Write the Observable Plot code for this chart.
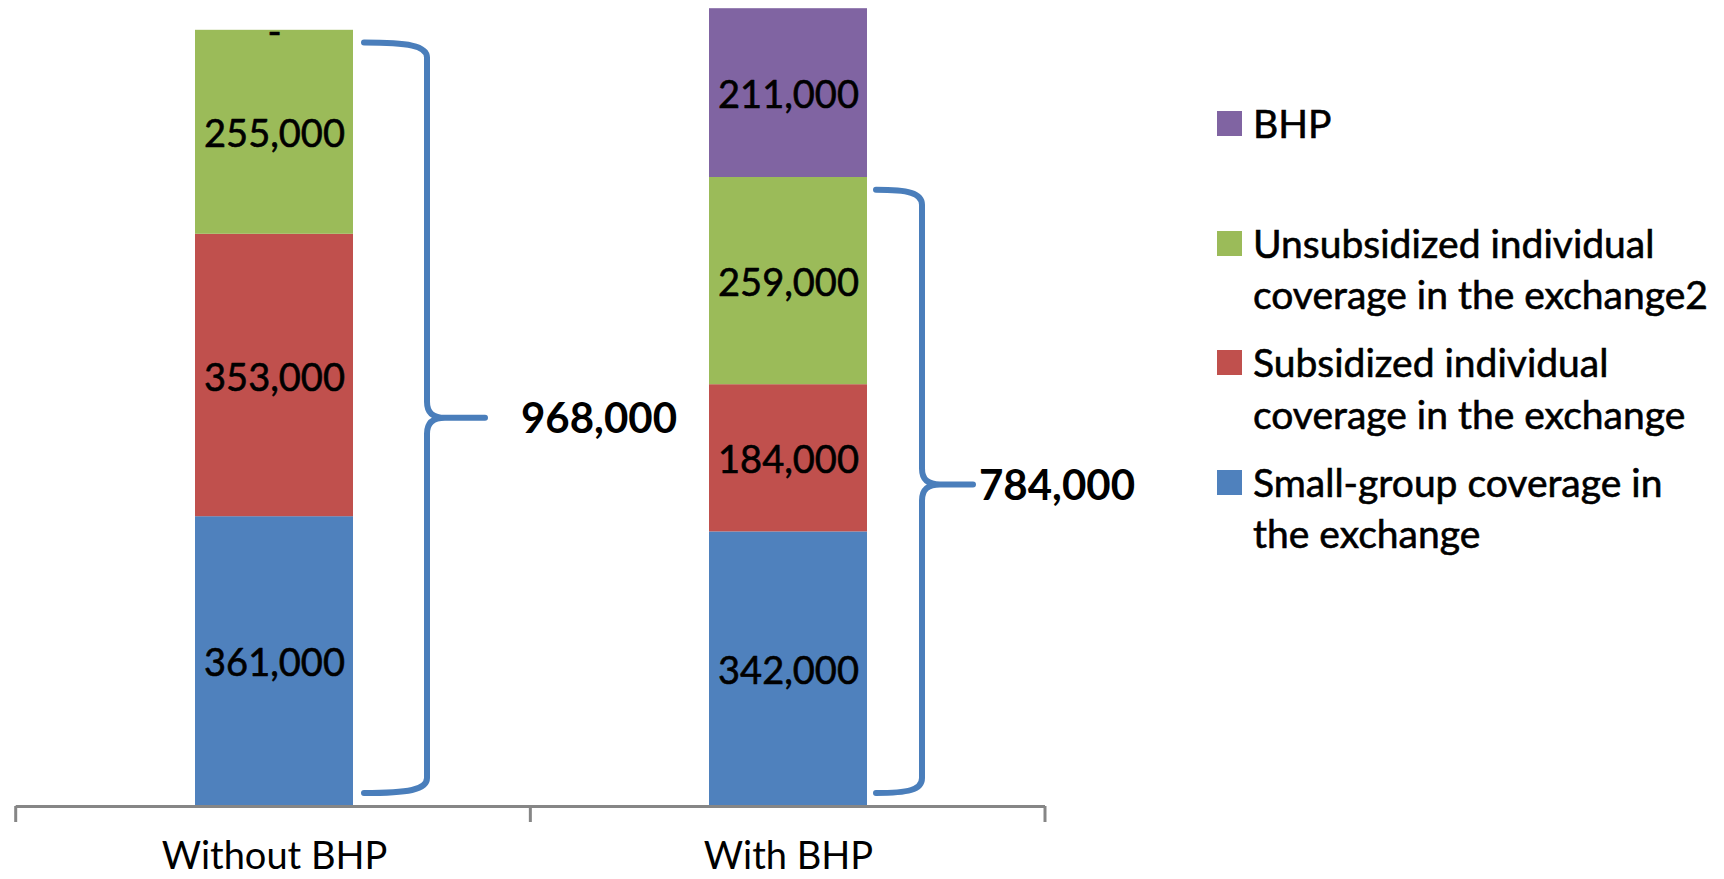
<!DOCTYPE html>
<html>
<head>
<meta charset="utf-8">
<script src="https://cdn.jsdelivr.net/npm/d3@7"></script>
<script src="https://cdn.jsdelivr.net/npm/@observablehq/plot@0.6"></script>
<style>
  html, body { margin: 0; padding: 0; background: #ffffff; }
  #wrap { position: relative; width: 1724px; height: 879px; font-family: Lato, "Open Sans", sans-serif; }
  #legend { position: absolute; left: 1217px; top: 98px; }
  .entry { position: relative; height: 119.5px; }
  .swatch { position: absolute; left: 0; top: 13px; width: 25px; height: 25px; }
  .ltext { position: absolute; left: 36px; top: 0; font-size: 39px; line-height: 51.5px; color: #000; white-space: nowrap; -webkit-text-stroke: 0.6px #000; }
</style>
</head>
<body>
<div id="wrap"></div>
<script>
// ---------------- data ----------------
const categories = ["Without BHP", "With BHP"];
const seriesNames = [
  "Small-group coverage in the exchange",
  "Subsidized individual coverage in the exchange",
  "Unsubsidized individual coverage in the exchange2",
  "BHP"
];
const seriesColors = ["#4F81BD", "#C0504D", "#9BBB59", "#8064A2"];
const smallGroup   = [361000, 342000];
const subsidized   = [353000, 184000];
const unsubsidized = [255000, 259000];
const bhp          = [0, 211000];
const braceTotals  = [968000, 784000];
const braceLabels  = ["968,000", "784,000"];
const legendLines = [
  ["BHP"],
  ["Unsubsidized individual", "coverage in the exchange2"],
  ["Subsidized individual", "coverage in the exchange"],
  ["Small-group coverage in", "the exchange"]
];
const legendOrder = ["BHP",
  "Unsubsidized individual coverage in the exchange2",
  "Subsidized individual coverage in the exchange",
  "Small-group coverage in the exchange"];

// ---------------- table ----------------
const seriesValues = [smallGroup, subsidized, unsubsidized, bhp];
const fmt = d3.format(",");
const rows = [];
categories.forEach((c, ci) => {
  seriesNames.forEach((s, si) => {
    const v = seriesValues[si][ci];
    rows.push({category: c, series: s, value: v, label: v === 0 ? "-" : fmt(v)});
  });
});
const braces = categories.map((c, i) => ({category: c, total: braceTotals[i], label: braceLabels[i]}));

// ---------------- layout / style ----------------
const W = 1724, H = 879;
const FONT = "Lato, 'Open Sans', sans-serif";
const braceStyle = [
  {arm: 11, spine: 74, tip: 58, gap: 36, shift: 0},
  {arm: 9, spine: 55, tip: 51, gap: 6, shift: -7}
];

function bw(x) {
  return typeof x.bandwidth === "function" ? x.bandwidth() : (x.bandwidth || 0);
}

// category-boundary ticks below the baseline
const tickMark = (index, scales, values, dims) => {
  const g = d3.create("svg:g");
  const y0 = scales.y(0) + 1;
  const left = dims.marginLeft, right = dims.width - dims.marginRight;
  const xs = [left, (left + right) / 2, right];
  xs.forEach(x => {
    g.append("line").attr("x1", x).attr("x2", x).attr("y1", y0).attr("y2", y0 + 16)
      .attr("stroke", "#868686").attr("stroke-width", 3);
  });
  return g.node();
};

// curly braces with totals
const braceMark = (index, scales, values, dims) => {
  const g = d3.create("svg:g");
  const x = scales.x, y = scales.y;
  const b = bw(x);
  braces.forEach((d, i) => {
    const st = braceStyle[i];
    const right = x(d.category) + b;
    const x0 = right + st.arm, xv = right + st.spine, xt = xv + st.tip;
    const yT = y(d.total) + 12, yB = y(0) - 12, yM = (yT + yB) / 2 + st.shift;
    const k = x0 + (xv - x0) * 0.7;
    const p = `M${x0},${yT} C${k},${yT} ${xv},${yT + 3} ${xv},${yT + 15}
      L${xv},${yM - 16} C${xv},${yM - 5} ${xv + 6},${yM} ${xv + 18},${yM} L${xt},${yM}
      M${xv + 18},${yM} C${xv + 6},${yM} ${xv},${yM + 5} ${xv},${yM + 16}
      L${xv},${yB - 15} C${xv},${yB - 3} ${k},${yB} ${x0},${yB}`;
    g.append("path").attr("d", p).attr("fill", "none").attr("stroke", "#4A7EBB")
      .attr("stroke-width", 6).attr("stroke-linecap", "round").attr("stroke-linejoin", "round");
    g.append("text").attr("x", xt + st.gap).attr("y", yM).attr("dy", "0.36em")
      .attr("text-anchor", "start")
      .attr("font-family", FONT).attr("font-weight", "bold").attr("font-size", 42)
      .attr("fill", "#000").text(d.label);
  });
  return g.node();
};

const chart = Plot.plot({
  width: W,
  height: H,
  marginLeft: 15.7,
  marginRight: W - 1045,
  marginTop: 5,
  marginBottom: H - 805,
  style: {fontFamily: FONT, background: "transparent"},
  x: {domain: categories, paddingInner: 0.6935, paddingOuter: 0.3468, axis: null},
  y: {domain: [0, 1000000], axis: null},
  color: {domain: seriesNames, range: seriesColors},
  marks: [
    Plot.barY(rows, Plot.stackY({x: "category", y: "value", fill: "series", z: "series", order: seriesNames})),
    Plot.text(rows, Plot.stackY({x: "category", y: "value", z: "series", order: seriesNames,
      text: "label", fill: "#000", stroke: "#000", strokeWidth: 0.6, fontSize: 38, fontFamily: FONT, dy: 3})),
    Plot.ruleY([0], {stroke: "#868686", strokeWidth: 3, dy: 1}),
    tickMark,
    braceMark,
    Plot.axisX({tickSize: 0, tickPadding: 37, fontSize: 38, fill: "#000", stroke: "#000", strokeWidth: 0.5,
      fontFamily: FONT, label: null})
  ]
});

const wrap = document.getElementById("wrap");
wrap.appendChild(chart);

// legend
const legend = document.createElement("div");
legend.id = "legend";
legendOrder.forEach((name, i) => {
  const e = document.createElement("div");
  e.className = "entry";
  const sw = document.createElement("div");
  sw.className = "swatch";
  sw.style.background = seriesColors[seriesNames.indexOf(name)];
  const t = document.createElement("div");
  t.className = "ltext";
  t.innerHTML = legendLines[i].map(s => s.replace(/&/g, "&amp;")).join("<br>");
  e.appendChild(sw); e.appendChild(t);
  legend.appendChild(e);
});
wrap.appendChild(legend);
</script>
</body>
</html>
